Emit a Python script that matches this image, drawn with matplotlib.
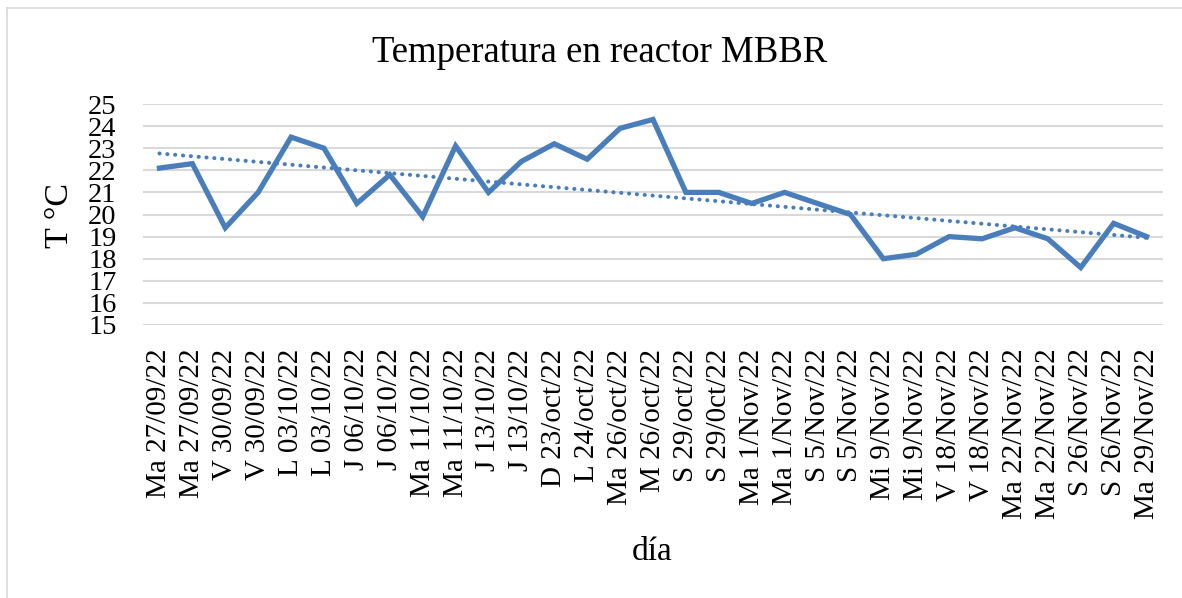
import matplotlib
matplotlib.use("Agg")
import matplotlib.pyplot as plt
import numpy as np
from matplotlib.lines import Line2D

categories = ["Ma 27/09/22", "Ma 27/09/22", "V 30/09/22", "V 30/09/22",
              "L 03/10/22", "L 03/10/22", "J 06/10/22", "J 06/10/22",
              "Ma 11/10/22", "Ma 11/10/22", "J 13/10/22", "J 13/10/22",
              "D 23/oct/22", "L 24/oct/22", "Ma 26/oct/22", "M 26/oct/22",
              "S 29/oct/22", "S 29/0ct/22", "Ma 1/Nov/22", "Ma 1/Nov/22",
              "S 5/Nov/22", "S 5/Nov/22", "Mi 9/Nov/22", "Mi 9/Nov/22",
              "V 18/Nov/22", "V 18/Nov/22", "Ma 22/Nov/22", "Ma 22/Nov/22",
              "S 26/Nov/22", "S 26/Nov/22", "Ma 29/Nov/22"]
temperature = [22.1, 22.3, 19.4, 21.0, 23.5, 23.0, 20.5, 21.8, 19.9, 23.1,
               21.0, 22.4, 23.2, 22.5, 23.9, 24.3, 21.0, 21.0, 20.5, 21.0,
               20.5, 20.0, 18.0, 18.2, 19.0, 18.9, 19.4, 18.9, 17.6, 19.6, 19.0]
y_ticks = list(range(15, 26))

plt.rcParams['font.family'] = ['Liberation Serif', 'DejaVu Serif']

W, H = 1182, 598
fig = plt.figure(figsize=(W / 100, H / 100), dpi=100)
ax = fig.add_axes([143 / W, 1 - 325 / H, (1163 - 143) / W, (325 - 104) / H])

x = np.arange(len(temperature))
color = "#4a7ebb"
ax.plot(x, temperature, color=color, linewidth=3.8, solid_joinstyle="miter", zorder=3)
coef = np.polyfit(x, temperature, 1)
ax.plot(x, np.polyval(coef, x), color=color, linewidth=2.9, linestyle=(0, (0.05, 1.9)),
        dash_capstyle="round", zorder=2)

ax.set_xlim(-0.5, len(temperature) - 0.5)
ax.set_ylim(15, 25)
ax.set_yticks(y_ticks)
ax.set_yticklabels([str(t) for t in y_ticks])
ax.set_xticks(x)
ax.set_xticklabels(categories, rotation=90, ha="center", va="top")
ax.tick_params(axis="y", length=0, pad=19, labelsize=20.5)
ax.tick_params(axis="x", length=0, pad=17, labelsize=21)
ax.grid(axis="y", color="#d9d9d9", linewidth=1.5)
ax.set_axisbelow(True)
for s in ax.spines.values():
    s.set_visible(False)

fig.text(600 / W, 1 - 53 / H, "Temperatura en reactor MBBR", ha="center", va="center", fontsize=26.5)
fig.text(60 / W, 1 - 215 / H, "T °C", ha="center", va="center", rotation=90, fontsize=24.5)
fig.text(652 / W, 1 - 552 / H, "día", ha="center", va="center", fontsize=24)

# chart border (top and left visible)
fig.add_artist(Line2D([7 / W, 1], [1 - 8 / H, 1 - 8 / H], color="#d9d9d9", linewidth=1.2))
fig.add_artist(Line2D([7 / W, 7 / W], [0, 1 - 8 / H], color="#d9d9d9", linewidth=1.2))

fig.savefig("out.png", dpi=100)
